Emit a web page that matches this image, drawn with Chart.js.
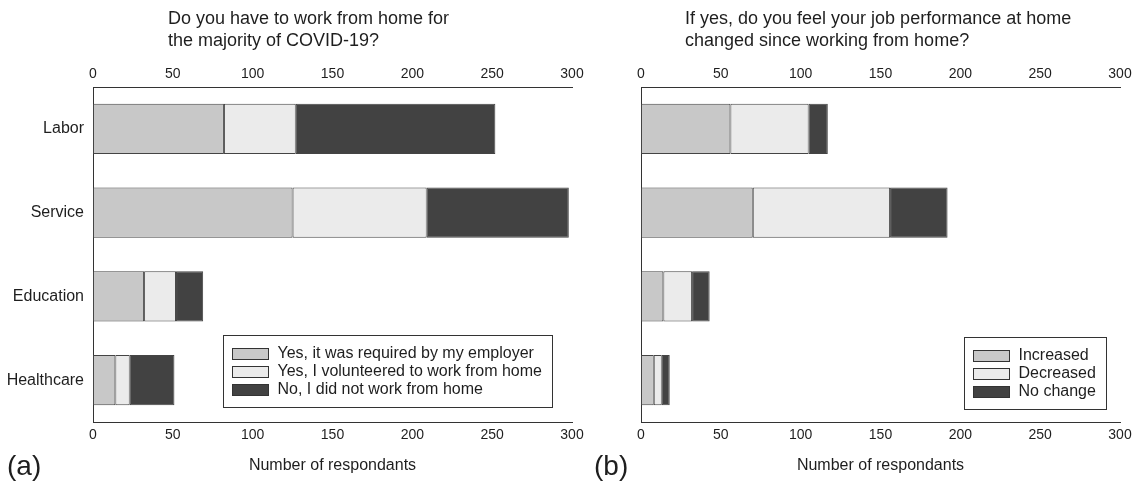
<!DOCTYPE html>
<html>
<head>
<meta charset="utf-8">
<script src="https://cdn.jsdelivr.net/npm/chart.js@4.4.0/dist/chart.umd.min.js"></script>
<style>
  html, body { margin: 0; padding: 0; background: #fff; }
  #wrap { position: relative; width: 1139px; height: 484px; overflow: hidden;
          font-family: "Liberation Sans", Arial, sans-serif; color: #1e1e1e; }
  #wrap canvas { position: absolute; top: 0; }
  .title { position: absolute; top: 7px; font-size: 18px; line-height: 22px; white-space: nowrap; }
  .panel { position: absolute; top: 449px; font-size: 28px; line-height: 34px; }
</style>
</head>
<body>
<div id="wrap">
  <canvas id="chartA" width="591" height="484" style="left:0px"></canvas>
  <canvas id="chartB" width="591" height="484" style="left:548px"></canvas>
  <div class="title" style="left:168px">Do you have to work from home for<br>the majority of COVID-19?</div>
  <div class="title" style="left:685px">If yes, do you feel your job performance at home<br>changed since working from home?</div>
  <div class="panel" style="left:7px">(a)</div>
  <div class="panel" style="left:594px">(b)</div>
</div>
<script>
// Sectors (rows) and tick values shared by both panels
const sectors = ['Labor', 'Service', 'Education', 'Healthcare'];
const xTicks = [0, 50, 100, 150, 200, 250, 300];
const axisTitle = 'Number of respondants';

// (a) Working from home during COVID-19
const wfhLabels = ['Yes, it was required by my employer', 'Yes, I volunteered to work from home', 'No, I did not work from home'];
const requiredByEmployer = [82, 125, 32, 14];
const volunteered = [45, 84, 20, 9];
const didNotWork = [125, 89, 17, 28];

// (b) Change in job performance at home
const perfLabels = ['Increased', 'Decreased', 'No change'];
const increased = [56, 70, 14, 8];
const decreased = [49, 86, 18, 5];
const noChange = [12, 36, 11, 5];

const fills = ['#c8c8c8', '#ebebeb', '#424242'];
const FONT = '"Liberation Sans", Arial, sans-serif';
const INK = '#1e1e1e';
const LINE = '#333333';

// Framed legend drawn inside the plot, anchored to the lower-right corner
const boxedLegend = {
  id: 'boxedLegend',
  afterDraw(chart, args, opts) {
    const { ctx, chartArea } = chart;
    const items = chart.data.datasets;
    ctx.save();
    ctx.font = '16px ' + FONT;
    const textW = Math.max(...items.map(d => ctx.measureText(d.label).width));
    const padL = 9, sw = 36, sh = 11, gap = 9.5, padR = 10, rowH = 17.8, edge = 18.4;
    const w = Math.round(padL + sw + gap + textW + padR);
    const h = Math.round(edge * 2 + rowH * (items.length - 1));
    const x = Math.round(chartArea.right - opts.right - w);
    const y = Math.round(chartArea.bottom - opts.bottom - h);
    ctx.fillStyle = '#fff';
    ctx.fillRect(x, y, w, h);
    ctx.strokeStyle = LINE;
    ctx.lineWidth = 1;
    ctx.strokeRect(x + 0.5, y + 0.5, w, h);
    items.forEach((d, i) => {
      const cy = y + edge + i * rowH;
      const sx = x + padL + 0.5, sy = Math.round(cy - sh / 2) + 0.5;
      ctx.fillStyle = d.backgroundColor;
      ctx.fillRect(sx, sy, sw, sh);
      ctx.strokeStyle = LINE;
      ctx.strokeRect(sx, sy, sw, sh);
      ctx.fillStyle = INK;
      ctx.textBaseline = 'middle';
      ctx.textAlign = 'left';
      ctx.fillText(d.label, x + padL + sw + gap, cy + 0.5);
    });
    ctx.restore();
  }
};

function valueAxis(position, height, pad) {
  const axis = {
    type: 'linear',
    position: position,
    min: 0,
    max: 300,
    stacked: true,
    grid: { display: false, drawTicks: false },
    border: { display: true, color: LINE, width: 1 },
    ticks: { font: { family: FONT, size: 14 }, color: INK, padding: pad, maxRotation: 0 },
    afterBuildTicks: s => { s.ticks = xTicks.map(v => ({ value: v })); },
    afterFit: s => { s.height = height; }
  };
  if (position === 'bottom') {
    axis.title = { display: true, text: axisTitle, color: INK,
                   font: { family: FONT, size: 16 }, padding: { top: 0, bottom: 9 } };
  }
  return axis;
}

function makeChart(id, labels, series, legendOffset, showRowLabels) {
  return new Chart(document.getElementById(id), {
    type: 'bar',
    data: {
      labels: sectors,
      datasets: series.map((vals, i) => ({
        label: labels[i],
        data: vals,
        backgroundColor: fills[i],
        borderColor: '#444444',
        borderWidth: 1,
        borderSkipped: false,
        barPercentage: 0.6,
        categoryPercentage: 1.0
      }))
    },
    options: {
      indexAxis: 'y',
      responsive: false,
      animation: false,
      devicePixelRatio: 1,
      layout: { padding: { left: 0, top: 0, right: 19, bottom: 0 } },
      plugins: {
        legend: { display: false },
        tooltip: { enabled: false },
        boxedLegend: legendOffset
      },
      scales: {
        y: {
          type: 'category',
          position: 'left',
          stacked: true,
          grid: { display: false, drawTicks: false },
          border: { display: true, color: LINE, width: 1 },
          ticks: { display: showRowLabels, font: { family: FONT, size: 16 }, color: INK, padding: 9 },
          afterFit: s => { s.width = 93; }
        },
        x: valueAxis('bottom', 62, 5),
        xTop: valueAxis('top', 87, 4)
      }
    },
    plugins: [boxedLegend]
  });
}

makeChart('chartA', wfhLabels, [requiredByEmployer, volunteered, didNotWork], { right: 20, bottom: 15 }, true);
makeChart('chartB', perfLabels, [increased, decreased, noChange], { right: 14, bottom: 13 }, false);
</script>
</body>
</html>
